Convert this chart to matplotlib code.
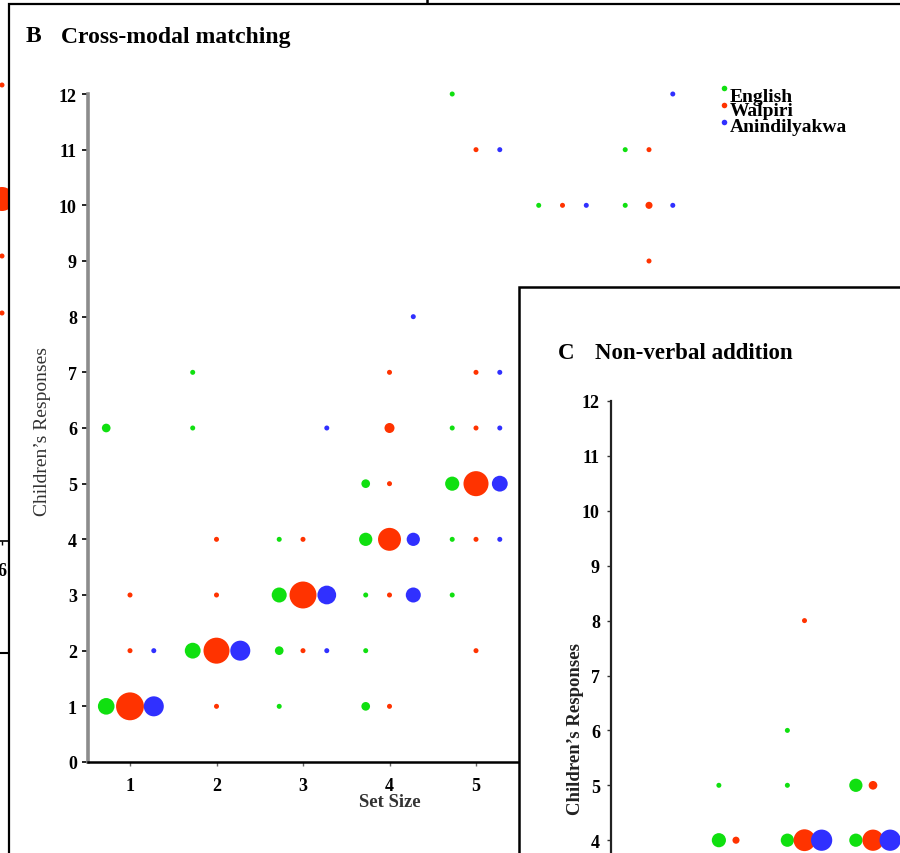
import matplotlib
matplotlib.use("Agg")
import matplotlib.pyplot as plt
from matplotlib.patches import Rectangle
from matplotlib.lines import Line2D
import numpy as np

plt.rcParams['font.family'] = ['Liberation Serif', 'DejaVu Serif']

# ---------------- data ----------------
languages = ["English", "Walpiri", "Anindilyakwa"]
colors = ["#10e010", "#ff3300", "#3030ff"]

# Panel B: cross-modal matching  (set size, response, number of children)
eng_set = [1, 1, 2, 2, 2, 3, 3, 3, 3, 4, 4, 4, 4, 4, 5, 5, 5, 5, 5, 6, 7, 7]
eng_resp = [1, 6, 2, 6, 7, 1, 2, 3, 4, 1, 2, 3, 4, 5, 3, 4, 5, 6, 12, 10, 10, 11]
eng_n = [11, 3, 10, 1, 1, 1, 3, 9, 1, 3, 1, 1, 7, 3, 1, 1, 8, 1, 1, 1, 1, 1]

wal_set = [1, 1, 1, 2, 2, 2, 2, 3, 3, 3, 4, 4, 4, 4, 4, 4, 5, 5, 5, 5, 5, 5, 6, 7, 7, 7]
wal_resp = [1, 2, 3, 1, 2, 3, 4, 2, 3, 4, 1, 3, 4, 5, 6, 7, 2, 4, 5, 6, 7, 11, 10, 9, 10, 11]
wal_n = [31, 1, 1, 1, 27, 1, 1, 1, 29, 1, 1, 1, 21, 1, 4, 1, 1, 1, 25, 1, 1, 1, 1, 1, 2, 1]

ani_set = [1, 1, 2, 3, 3, 3, 4, 4, 4, 5, 5, 5, 5, 5, 6, 7, 7]
ani_resp = [1, 2, 2, 2, 3, 6, 3, 4, 8, 4, 5, 6, 7, 11, 10, 10, 12]
ani_n = [16, 1, 16, 1, 14, 1, 9, 7, 1, 1, 10, 1, 1, 1, 1, 1, 1]

# Panel C: non-verbal addition (problem index, response, number of children)
c_eng_prob = [1, 1, 2, 2, 2, 3, 3]
c_eng_resp = [4, 5, 4, 5, 6, 4, 5]
c_eng_n = [8, 1, 7, 1, 1, 7, 7]
c_wal_prob = [1, 2, 2, 3, 3]
c_wal_resp = [4, 4, 8, 4, 5]
c_wal_n = [2, 19, 1, 18, 3]
c_ani_prob = [2, 3]
c_ani_resp = [4, 4]
c_ani_n = [18, 18]

# Panel A (mostly cropped away): Walpiri column at set size 6
a_wal_set = [6, 6, 6, 6]
a_wal_resp = [8, 6, 5, 4]
a_wal_n = [1, 23, 1, 1]

y_ticks_b = list(range(0, 13))
y_ticks_c = list(range(4, 13))
x_ticks_b = [1, 2, 3, 4, 5, 6, 7]

# ---------------- layout helpers ----------------
W, H = 900, 854
fig = plt.figure(figsize=(W / 100, H / 100), dpi=100)


def fx(px):
    return px / W


def fy(py):
    return 1 - py / H


def box(left, top, right, bottom):
    return [fx(left), fy(bottom), (right - left) / W, (bottom - top) / H]


SIZE_K = 13.0
tick_font = dict(family='Liberation Serif', weight='bold', size=13)

# ---------------- Panel A remnant ----------------
axA = fig.add_axes(box(-474, -142, 8, 542), zorder=0)
axA.set_xlim(0.5, 6 + 6 / 86.5)
axA.set_ylim(0, 12)
axA.scatter(a_wal_set, a_wal_resp, s=np.array(a_wal_n) * SIZE_K,
            color=colors[1], edgecolors='none', clip_on=False)
for s in ['top', 'right', 'left']:
    axA.spines[s].set_visible(False)
axA.spines['bottom'].set_linewidth(1.2)
axA.set_xticks([6])
axA.set_xticklabels(['6'], fontdict=tick_font)
axA.set_yticks([])
axA.tick_params(axis='x', length=3, width=1, pad=12)
axA.patch.set_visible(False)
fig.add_artist(Line2D([0, fx(9)], [fy(654), fy(654)], color='black', lw=1.5, zorder=0.5))
fig.add_artist(Line2D([fx(427), fx(427)], [fy(0), fy(5)], color='black', lw=1.8, zorder=0.5))

# ---------------- Panel B ----------------
fig.add_artist(Rectangle((fx(9), fy(900)), 1.2, fy(5) - fy(900), transform=fig.transFigure,
                         facecolor='white', edgecolor='black', lw=1.6, zorder=1))

axB = fig.add_axes(box(88, 95, 880, 763), zorder=2)
axB.patch.set_visible(False)
ux_b = 86.5
axB.set_xlim(1 - 42 / ux_b, 1 + (880 - 130) / ux_b)
axB.set_ylim(0, 12)
off_b = 0.275
for xs, ys, ns, c, off in [(eng_set, eng_resp, eng_n, colors[0], -off_b),
                           (wal_set, wal_resp, wal_n, colors[1], 0.0),
                           (ani_set, ani_resp, ani_n, colors[2], off_b)]:
    axB.scatter(np.array(xs) + off, ys, s=np.array(ns) * SIZE_K, color=c,
                edgecolors='none', clip_on=False, zorder=3)

axB.spines['top'].set_visible(False)
axB.spines['right'].set_visible(False)
axB.spines['left'].set_color('#8c8c8c')
axB.spines['left'].set_linewidth(2.6)
axB.spines['bottom'].set_color('black')
axB.spines['bottom'].set_linewidth(1.8)
axB.set_yticks(y_ticks_b)
axB.set_yticklabels([str(t) for t in y_ticks_b], fontdict=tick_font)
axB.set_xticks(x_ticks_b)
axB.set_xticklabels([str(t) for t in x_ticks_b], fontdict=tick_font)
axB.tick_params(axis='y', length=4, width=1.2, color='black', pad=4)
axB.tick_params(axis='x', length=3, width=1, color='#666666', pad=8)

axB.set_ylabel("Children\u2019s Responses", fontsize=14, family='Liberation Serif', color='#333333')
axB.yaxis.set_label_coords((43 - 88) / 792, (763 - 432) / 668)
axB.yaxis.label.set_va('center')
axB.set_xlabel("Set Size", fontsize=13.5, family='Liberation Serif', weight='bold', color='#333333')
axB.xaxis.set_label_coords((390 - 88) / 792, -(803 - 763) / 668)
axB.xaxis.label.set_va('center')

fig.text(fx(26), fy(37), "B", fontsize=17, weight='bold', va='center', ha='left')
fig.text(fx(61), fy(37), "Cross-modal matching", fontsize=17, weight='bold', va='center', ha='left')

# legend (top right of panel B), drawn as markers + labels
leg_marker_y = [89, 106, 123]
leg_text_y = [97, 112, 128]
for name, c, my, ty in zip(languages, colors, leg_marker_y, leg_text_y):
    fig.add_artist(Line2D([fx(724)], [fy(my)], marker='o', linestyle='none', markersize=4,
                          markerfacecolor=c, markeredgecolor='none', zorder=2.5))
    fig.text(fx(730), fy(ty), name, fontsize=14, weight='bold', va='center', ha='left',
             zorder=2.5)

# ---------------- Panel C ----------------
fig.add_artist(Rectangle((fx(519), fy(900)), 1.2, fy(288) - fy(900), transform=fig.transFigure,
                         facecolor='white', edgecolor='black', lw=1.8, zorder=3))

uy_c = 54.9
ux_c = 68.5
axC = fig.add_axes(box(611, 402, 1000, 402 + 12 * uy_c), zorder=4)
axC.patch.set_visible(False)
axC.set_ylim(0, 12)
axC.set_xlim(1 - (736 - 611) / ux_c, 1 + (1000 - 736) / ux_c)
off_c = 0.25
for xs, ys, ns, c, off in [(c_eng_prob, c_eng_resp, c_eng_n, colors[0], -off_c),
                           (c_wal_prob, c_wal_resp, c_wal_n, colors[1], 0.0),
                           (c_ani_prob, c_ani_resp, c_ani_n, colors[2], off_c)]:
    axC.scatter(np.array(xs) + off, ys, s=np.array(ns) * SIZE_K, color=c,
                edgecolors='none', clip_on=False, zorder=3)
for s in ['top', 'right', 'bottom']:
    axC.spines[s].set_visible(False)
axC.spines['left'].set_color('#222222')
axC.spines['left'].set_linewidth(1.6)
axC.set_yticks(y_ticks_c)
axC.set_yticklabels([str(t) for t in y_ticks_c], fontdict=tick_font)
axC.set_xticks([])
axC.tick_params(axis='y', length=3, width=1, color='#333333', pad=5)
axC.set_ylabel("Children\u2019s Responses", fontsize=13.5, family='Liberation Serif',
               weight='bold', color='#222222')
axC.yaxis.set_label_coords((575 - 611) / 389, (402 + 12 * uy_c - 729) / (12 * uy_c))
axC.yaxis.label.set_va('center')

fig.text(fx(558), fy(354), "C", fontsize=16.5, weight='bold', va='center', ha='left')
fig.text(fx(595), fy(354), "Non-verbal addition", fontsize=16.5, weight='bold', va='center', ha='left')

fig.savefig("out.png", dpi=100)
